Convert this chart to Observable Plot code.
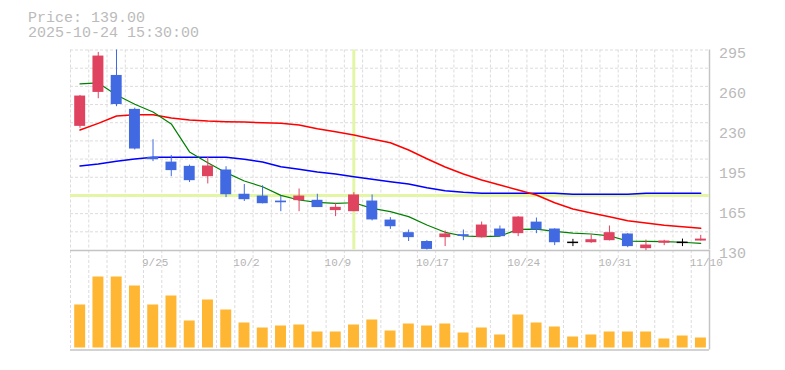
<!DOCTYPE html>
<html><head><meta charset="utf-8">
<script src="https://cdn.jsdelivr.net/npm/d3@7"></script>
<script src="https://cdn.jsdelivr.net/npm/@observablehq/plot@0.6"></script>
<style>
html,body{margin:0;padding:0;background:#fff;}
#chart{position:relative;width:785px;height:370px;overflow:hidden;font-family:"Liberation Mono",monospace;}
#hdr{position:absolute;left:28px;top:11px;font-size:15px;line-height:15px;color:#bbbbbb;white-space:pre;}
#main,#vol{position:absolute;left:0;}
#main{top:0}
#vol{top:249px}
</style></head><body>
<div id="chart"><div id="vol"></div><div id="main"></div><div id="hdr"></div></div>
<script>
// ---- data ----
const headerLines = ["Price: 139.00", "2025-10-24 15:30:00"];
const dates = ["9/18","9/19","9/22","9/24","9/25","9/26","9/29","9/30","10/1","10/2",
  "10/3","10/6","10/7","10/8","10/9","10/10","10/14","10/15","10/16","10/17",
  "10/20","10/21","10/22","10/23","10/24","10/27","10/28","10/29","10/30","10/31",
  "11/4","11/5","11/6","11/7","11/10"];
const open  = [232, 260, 274, 246, 206.5, 202.5, 199, 190.5, 196, 176, 174.5, 170.2, 170.7, 171, 162.5, 161.6, 170.4, 154.7, 144.3, 137, 140.2, 142.5, 140.2, 147.3, 143.5, 153, 147.3, 136.3, 136, 137.7, 143.2, 131.1, 136, 136.3, 137.4];
const high  = [257.5, 293, 295, 247, 221, 208, 200, 206.5, 198.7, 184, 183, 174.5, 180.3, 176, 168.5, 177.3, 175.4, 156.7, 146.5, 137.7, 145.7, 146.5, 153.1, 149.8, 157.5, 156.4, 147.5, 138.8, 142.4, 149.8, 143.5, 138.2, 138, 139, 142.1];
const low   = [230.4, 254.8, 248.2, 212.5, 202.9, 190.5, 185.7, 184.5, 173.2, 170, 168, 161.6, 161.6, 165, 157.5, 161.6, 154, 147, 137, 130, 132.8, 137.7, 140, 141, 141, 143.5, 133.6, 132.8, 135.5, 137.5, 131.9, 129.5, 133.6, 132.8, 137.4];
const close = [257, 290, 250, 213.3, 204.5, 195.5, 187.2, 199.3, 175.6, 171.5, 168.2, 169.8, 174.5, 165, 165.2, 175.4, 154.8, 149.2, 140.2, 130.5, 143.2, 141.8, 150.6, 141, 157.2, 146.5, 136, 136.3, 138.5, 144.3, 132.8, 134.1, 137.4, 136.3, 139];
const ma5  = [267, 267.8, 257.9, 250.2, 243.8, 234, 210.9, 202, 193.8, 186.9, 182.2, 175.1, 171.25, 169.3, 168.5, 169, 164.4, 161.6, 157.5, 150.6, 144.6, 141.55, 141, 141.5, 147, 147.3, 145.4, 144, 143.2, 141.6, 137.4, 137.1, 136.9, 136.4, 135.5];
const ma25 = [229, 234.5, 240.55, 241.6, 241.6, 238.9, 237.25, 236.4, 235.9, 235.6, 235, 234.5, 233.2, 230.1, 227.6, 224.9, 221.6, 218.5, 212.5, 205.3, 198.5, 192.7, 187.75, 183.6, 179.5, 175.4, 169, 163.8, 160.5, 157.5, 154.2, 152.3, 150.4, 149.2, 147.9];
const ma75 = [199.3, 201, 203.2, 205.1, 206.5, 206.5, 206.5, 206.5, 206.5, 204.8, 202.6, 198.75, 196.6, 194.35, 192.7, 190.5, 188.3, 186.4, 184.45, 181.4, 178.9, 177.6, 176.8, 176.8, 176.8, 176.8, 176.8, 176, 176, 176, 176, 176.8, 176.8, 176.8, 176.8];
const volume = [90, 146, 146, 128, 90, 108, 58, 100, 80, 54, 44, 48, 50, 36, 36, 50, 60, 38, 52, 48, 52, 34, 44, 30, 70, 54, 46, 26, 30, 36, 36, 36, 22, 28, 24];
const priceDomain = [130, 295];
const gridPrices = [145, 160, 175, 190, 205, 220, 235, 250, 265, 280, 295];
const yTicks = [130, 163, 196, 229, 262, 295];
const yTickLabels = ["130", "165", "195", "230", "260", "295"];
const dateTicks = ["9/25", "10/2", "10/9", "10/17", "10/24", "10/31", "11/10"];
const crossDate = "10/10";
const crossPrice = 175;
const volDomain = [0, 199];

// ---- styling ----
const upColor = "#e0435f", downColor = "#4169e1", flatColor = "#000000";
const gridColor = "#dcdcdc", frameColor = "#c4c4c4", crossColor = "#e2f6a6";
const N = dates.length;
const C = 0.52; // candle centre within its slot

document.getElementById("hdr").textContent = headerLines.join("\n");

const candles = dates.map((d, i) => ({i, date: d, o: open[i], h: high[i], l: low[i], c: close[i], v: volume[i]}));
const col = d => d.c > d.o ? upColor : d.c < d.o ? downColor : flatColor;
const lineData = arr => arr.map((v, i) => ({x: i + C, y: v}));

const main = Plot.plot({
  width: 785, height: 251, marginTop: 49.5, marginBottom: 1.5, marginLeft: 70, marginRight: 76,
  style: {background: "transparent", fontFamily: "Liberation Mono, monospace", fontSize: "15px", color: "#bababa", overflow: "visible"},
  x: {domain: [0, N], axis: null},
  y: {domain: priceDomain},
  color: {type: "identity"},
  marks: [
    Plot.ruleY(gridPrices, {stroke: gridColor, strokeDasharray: "3,2"}),
    Plot.ruleX(d3.range(N), {stroke: gridColor, strokeDasharray: "3,2"}),
    Plot.ruleX([N], {stroke: frameColor, strokeWidth: 1.5}),
    Plot.ruleX([dates.indexOf(crossDate) + C], {stroke: crossColor, strokeWidth: 3}),
    Plot.ruleY([crossPrice], {stroke: crossColor, strokeWidth: 3}),
    Plot.line(lineData(ma75), {x: "x", y: "y", stroke: "#0000ff", strokeWidth: 1.5}),
    Plot.line(lineData(ma25), {x: "x", y: "y", stroke: "#ff0000", strokeWidth: 1.5}),
    Plot.line(lineData(ma5), {x: "x", y: "y", stroke: "#008000", strokeWidth: 1.2}),
    Plot.ruleX(candles, {x: d => d.i + C, y1: "l", y2: "h", stroke: col, strokeWidth: 1}),
    Plot.rect(candles, {x1: d => d.i + 0.23, x2: d => d.i + 0.83, y1: "o", y2: "c", fill: col}),
    Plot.ruleY(candles.filter(d => Math.abs(d.c - d.o) < 1.5), {y: d => (d.o + d.c) / 2, x1: d => d.i + 0.23, x2: d => d.i + 0.83, stroke: col, strokeWidth: 1.5}),
    Plot.axisY(yTicks, {anchor: "right", tickSize: 0, tickPadding: 9.5, textAnchor: "start", dy: 3.2, tickFormat: d => yTickLabels[yTicks.indexOf(d)]})
  ]
});
document.getElementById("main").appendChild(main);

const vol = Plot.plot({
  width: 785, height: 102, marginTop: 1, marginBottom: 1.5, marginLeft: 70, marginRight: 76,
  style: {background: "transparent", fontFamily: "Liberation Mono, monospace", fontSize: "11px", color: "#b4b4b4", overflow: "visible"},
  x: {domain: [0, N], axis: null},
  y: {domain: volDomain, axis: null},
  marks: [
    Plot.ruleX(d3.range(N), {stroke: gridColor, strokeDasharray: "3,2"}),
    Plot.text(dateTicks, {x: d => dates.indexOf(d) + C, text: d => d, frameAnchor: "top", lineAnchor: "bottom", textAnchor: "start", dx: -11, dy: 15, fontSize: 11, fill: "#b4b4b4"}),
    Plot.rectY(candles, {x1: d => d.i + 0.23, x2: d => d.i + 0.83, y: "v", fill: "#ffb733", insetBottom: 2}),
    Plot.ruleY([volDomain[0]], {stroke: frameColor, strokeWidth: 1.5}),
    Plot.ruleY([volDomain[1]], {stroke: frameColor, strokeWidth: 1.5}),
    Plot.ruleX([N], {stroke: frameColor, strokeWidth: 1.5})
  ]
});
document.getElementById("vol").appendChild(vol);
</script>
</body></html>
